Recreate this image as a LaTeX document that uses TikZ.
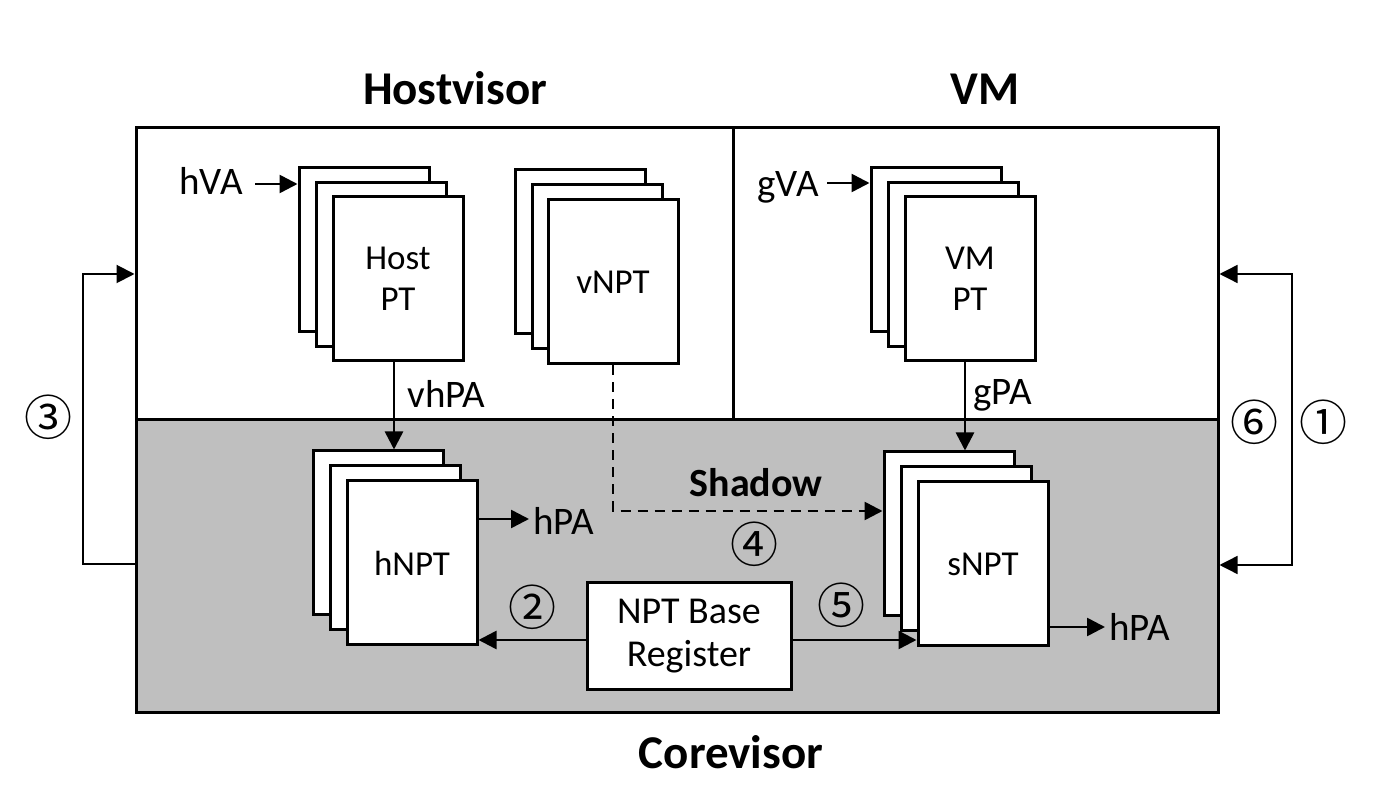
\documentclass[tikz,border=0pt]{standalone}
\usepackage{fontspec}
\setmainfont{Carlito}
\newfontfamily\circfont{Noto Sans CJK JP}
\usetikzlibrary{arrows.meta}
\definecolor{cgray}{RGB}{191,191,191}
\begin{document}
\begin{tikzpicture}[x=0.5pt,y=-0.5pt,
  pg/.style={draw,fill=white,line width=1.5pt,minimum width=65pt,minimum height=82pt,inner sep=0pt},
  blab/.style={font=\fontsize{17.5}{20.5}\selectfont,align=center},
  lab/.style={font=\fontsize{19.5}{22}\selectfont,inner sep=2pt},
  ttl/.style={font=\bfseries\fontsize{23.5}{26}\selectfont,inner sep=0pt},
  circ/.style={font=\circfont\fontsize{24}{26}\selectfont,inner sep=0pt},
  arr/.style={line width=1.3pt,-{Triangle[length=9pt,width=9pt]}},
  dsh/.style={arr,dash pattern=on 5pt off 3.5pt},
  loopl/.style={line width=1pt,-{Triangle[length=9pt,width=9pt]}},
  loopr/.style={line width=0.7pt,{Triangle[length=9pt,width=9pt]}-{Triangle[length=9pt,width=9pt]}}
]
\useasboundingbox (0,0) rectangle (1376,790);
% frame
\fill[cgray] (136,420) rectangle (1218,712);
\draw[line width=1.5pt] (136,420) -- (1218,420);
\draw[line width=1.5pt] (733,128) -- (733,420);
\node[draw,line width=1.5pt,minimum width=541pt,minimum height=292pt,inner sep=0pt] (outer) at (677,420) {};
% titles
\node[ttl,anchor=base] (thost) at (455,105) {Hostvisor};
\node[ttl,anchor=base] (tvm) at (985,105) {VM};
\node[ttl,anchor=base] (tcore) at (731,768) {Corevisor};
% stacks
\node[pg] (hostB) at (364,250) {};
\node[pg] (hostM) at (381,265) {};
\node[pg,blab] (host) at (398,279) {Host\\PT};
\node[pg] (vnptB) at (580,252) {};
\node[pg] (vnptM) at (597,267) {};
\node[pg,blab] (vnpt) at (613,282) {vNPT};
\node[pg] (vmB) at (936,250) {};
\node[pg] (vmM) at (953,265) {};
\node[pg,blab] (vm) at (970,279) {VM\\PT};
\node[pg] (hnptB) at (378,533) {};
\node[pg] (hnptM) at (395,548) {};
\node[pg,blab] (hnpt) at (412,563) {hNPT};
\node[pg] (snptB) at (949,534) {};
\node[pg] (snptM) at (966,549) {};
\node[pg,blab] (snpt) at (983,564) {sNPT};
\node[draw,fill=white,line width=1.5pt,minimum width=102pt,minimum height=53pt,inner sep=0pt,
  font=\fontsize{19}{21.5}\selectfont,align=center] (npt) at (689,636) {NPT Base\\Register};
% labels
\node[lab,anchor=base east] (hva) at (247,195) {hVA};
\node[lab,anchor=base east] (gva) at (823,197) {gVA};
\node[lab,anchor=base west] (vhpa) at (403,408) {vhPA};
\node[lab,anchor=base west] (gpa) at (969,405) {gPA};
\node[lab,anchor=base west] (hpa1) at (529,535) {hPA};
\node[lab,anchor=base west] (hpa2) at (1105,640) {hPA};
\node[font=\bfseries\fontsize{20}{22}\selectfont,anchor=base] (shadow) at (756,497) {Shadow};
% circled numbers
\node[circ] (c3) at (49,417) {③};
\node[circ] (c2) at (532,607) {②};
\node[circ] (c4) at (754,544) {④};
\node[circ] (c5) at (841,605) {⑤};
\node[circ] (c6) at (1254,422) {⑥};
\node[circ] (c1) at (1323,422) {①};
% helper coordinates
\coordinate (hy) at (0,184);
\coordinate (gy) at (0,183);
\coordinate (va) at (394,0);
\coordinate (ga) at (965,0);
\coordinate (dy) at (0,511);
\coordinate (ay) at (0,640);
\coordinate (p1) at (0,519);
\coordinate (p2) at (0,627);
\coordinate (ly1) at (0,564);
\coordinate (ly2) at (0,274);
\coordinate (lx) at (83,420);
\coordinate (ry1) at (0,274);
\coordinate (ry2) at (0,565);
\coordinate (rx) at (1292,420);
% connectors
\draw[arr,shorten <=4pt] (hva.east |- hy) -- (hostB.west |- hy);
\draw[arr,shorten <=2pt] (gva.east |- gy) -- (vmB.west |- gy);
\draw[arr] (host.south -| va) -- (hnptB.north -| va);
\draw[arr] (vm.south -| ga) -- (snptB.north -| ga);
\draw[dsh] (vnpt.south) |- (snptB.west |- dy);
\draw[arr] (hnpt.east |- p1) -- (hpa1.west |- p1);
\draw[arr] (snpt.east |- p2) -- (hpa2.west |- p2);
\draw[arr] (npt.west |- ay) -- (hnpt.east |- ay);
\draw[arr] (npt.east |- ay) -- (snpt.west |- ay);
\draw[loopl] (outer.west |- ly1) -| (lx) |- (outer.west |- ly2);
\draw[loopr] (outer.east |- ry1) -| (rx) |- (outer.east |- ry2);
\end{tikzpicture}
\end{document}
